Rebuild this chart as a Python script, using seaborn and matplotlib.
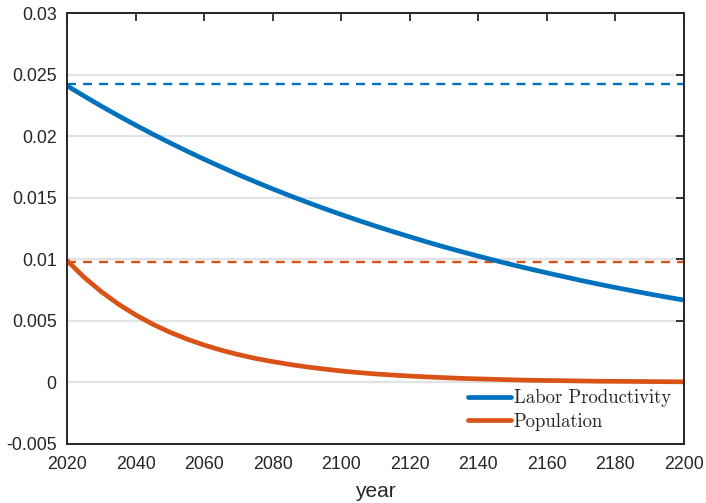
import numpy as np
import pandas as pd
import matplotlib
matplotlib.use("Agg")
import matplotlib.pyplot as plt
import seaborn as sns

# Data (5-year steps)
years = list(range(2020, 2201, 5))
labor_productivity = [0.02410, 0.02326, 0.02244, 0.02166, 0.02090, 0.02017, 0.01947,
                      0.01879, 0.01813, 0.01750, 0.01688, 0.01629, 0.01572, 0.01517,
                      0.01464, 0.01413, 0.01364, 0.01316, 0.01270, 0.01226, 0.01183,
                      0.01141, 0.01101, 0.01063, 0.01026, 0.00990, 0.00955, 0.00922,
                      0.00890, 0.00859, 0.00828, 0.00799, 0.00771, 0.00744, 0.00718,
                      0.00693, 0.00669]
population = [0.00990, 0.00854, 0.00737, 0.00636, 0.00549, 0.00473, 0.00408,
              0.00352, 0.00304, 0.00262, 0.00226, 0.00195, 0.00169, 0.00146,
              0.00126, 0.00109, 0.00093, 0.00080, 0.00069, 0.00060, 0.00052,
              0.00045, 0.00039, 0.00033, 0.00029, 0.00025, 0.00021, 0.00018,
              0.00016, 0.00014, 0.00012, 0.00010, 0.00009, 0.00008, 0.00007,
              0.00006, 0.00005]
lp_initial = 0.0242
pop_initial = 0.0098

yticks = [-0.005, 0, 0.005, 0.01, 0.015, 0.02, 0.025, 0.03]
ytick_labels = ["-0.005", "0", "0.005", "0.01", "0.015", "0.02", "0.025", "0.03"]
xticks = list(range(2020, 2201, 20))

blue = "#0072BD"
orange = "#D95319"
ink = "#262626"

df = pd.DataFrame({"year": years * 2,
                   "value": labor_productivity + population,
                   "series": ["Labor Productivity"] * len(years) + ["Population"] * len(years)})

sns.set_style("white")
plt.rcParams["font.family"] = ["Liberation Sans", "DejaVu Sans"]

fig = plt.figure(figsize=(7.06, 5.03), dpi=100)
ax = fig.add_axes([0.0949, 0.1173, 0.8739, 0.8567])

# horizontal grid lines
ax.set_axisbelow(True)
ax.yaxis.grid(True, color="#e3e3e3", linewidth=1.6)

# initial rates, dashed
ax.axhline(lp_initial, color=blue, linestyle=(0, (3.8, 3.0)), linewidth=1.7)
ax.axhline(pop_initial, color=orange, linestyle=(0, (3.8, 3.0)), linewidth=1.7)

sns.lineplot(data=df, x="year", y="value", hue="series",
             palette={"Labor Productivity": blue, "Population": orange},
             linewidth=3.4, ax=ax)

ax.set_xlim(2020, 2200)
ax.set_ylim(-0.005, 0.03)
ax.set_xticks(xticks)
ax.set_yticks(yticks)
ax.set_yticklabels(ytick_labels)
ax.tick_params(direction="in", length=6, width=1.3, colors=ink, labelsize=12.8,
               top=True, right=True)
ax.tick_params(axis="x", pad=9)
ax.tick_params(axis="y", pad=7.5)
for s in ax.spines.values():
    s.set_color(ink)
    s.set_linewidth(1.4)

ax.set_xlabel("year", fontsize=15, color=ink, labelpad=6)
ax.set_ylabel("")

leg = ax.legend(loc="lower right", frameon=True, fancybox=False, edgecolor="white",
                framealpha=1, prop={"family": "cmr10", "size": 13.5},
                handlelength=2.3, handletextpad=0.15, borderaxespad=0.5,
                labelspacing=0.3, borderpad=0.2)
for t in leg.get_texts():
    t.set_color(ink)

fig.savefig("out.png", dpi=100)
